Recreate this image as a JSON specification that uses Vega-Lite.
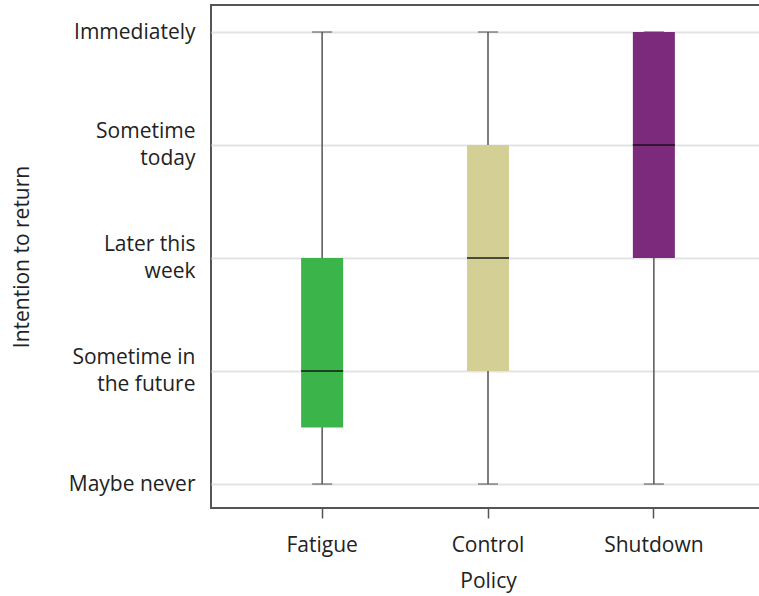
{
  "$schema": "https://vega.github.io/schema/vega-lite/v6.json",
  "width": 554,
  "height": 503,
  "autosize": {"type": "none"},
  "padding": {"left": 211, "top": 5, "right": 0, "bottom": 88},
  "background": "white",
  "config": {
    "view": {"stroke": "#555555", "strokeWidth": 2},
    "font": "Open Sans"
  },
  "data": {
    "values": [
      {"policy": "Fatigue", "min": 1, "q1": 1.5, "median": 2, "q3": 3, "max": 5},
      {"policy": "Control", "min": 1, "q1": 2, "median": 3, "q3": 4, "max": 5},
      {"policy": "Shutdown", "min": 1, "q1": 3, "median": 4, "q3": 5, "max": 5}
    ]
  },
  "encoding": {
    "x": {
      "field": "policy",
      "type": "nominal",
      "sort": ["Fatigue", "Control", "Shutdown"],
      "scale": {"paddingInner": 0, "paddingOuter": 0.17},
      "axis": {
        "title": "Policy",
        "labelAngle": 0,
        "labelFontSize": 21,
        "titleFontSize": 21,
        "titleFontWeight": "normal",
        "labelColor": "#222222",
        "titleColor": "#222222",
        "domain": false,
        "ticks": true,
        "tickSize": 10,
        "tickColor": "#555555",
        "tickWidth": 1.5,
        "labelPadding": 16,
        "titlePadding": 15,
        "grid": false
      }
    }
  },
  "layer": [
    {
      "mark": {"type": "rule", "color": "#555555", "strokeWidth": 1.5},
      "encoding": {
        "y": {
          "field": "min",
          "type": "quantitative",
          "scale": {"domain": [0.788, 5.239], "nice": false, "zero": false},
          "axis": {
            "title": "Intention to return",
            "titleFontSize": 21,
            "titleFontWeight": "normal",
            "titleColor": "#222222",
            "titlePadding": 36,
            "values": [1, 2, 3, 4, 5],
            "labelExpr": "datum.value == 1 ? 'Maybe never' : datum.value == 2 ? ['Sometime in', 'the future'] : datum.value == 3 ? ['Later this', 'week'] : datum.value == 4 ? ['Sometime', 'today'] : 'Immediately'",
            "labelFontSize": 21,
            "labelLineHeight": 27,
            "labelColor": "#222222",
            "labelPadding": 16,
            "labelOffset": {"expr": "datum.value == 1 || datum.value == 5 ? 0 : -13.5"},
            "ticks": false,
            "domain": false,
            "grid": true,
            "gridColor": "#e3e3e3",
            "gridWidth": 2
          }
        },
        "y2": {"field": "max"}
      }
    },
    {
      "mark": {"type": "tick", "color": "#555555", "thickness": 1.5, "size": 20},
      "encoding": {"y": {"field": "min", "type": "quantitative"}}
    },
    {
      "mark": {"type": "tick", "color": "#555555", "thickness": 1.5, "size": 20},
      "encoding": {"y": {"field": "max", "type": "quantitative"}}
    },
    {
      "mark": {"type": "bar", "size": 42},
      "encoding": {
        "y": {"field": "q1", "type": "quantitative"},
        "y2": {"field": "q3"},
        "color": {
          "field": "policy",
          "type": "nominal",
          "scale": {"domain": ["Fatigue", "Control", "Shutdown"], "range": ["#3bb44a", "#d4cf94", "#7c2a7b"]},
          "legend": null
        }
      }
    },
    {
      "mark": {"type": "tick", "color": "#111111", "thickness": 2, "size": 42},
      "encoding": {"y": {"field": "median", "type": "quantitative"}}
    }
  ]
}
